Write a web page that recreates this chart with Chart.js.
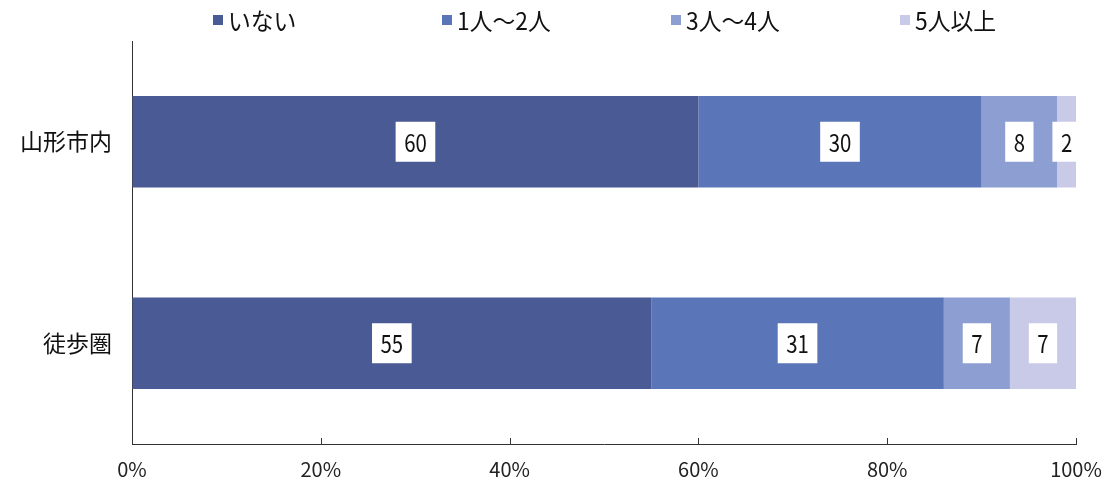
<!DOCTYPE html>
<html lang="ja">
<head>
<meta charset="utf-8">
<script src="https://cdn.jsdelivr.net/npm/chart.js@4.4.1/dist/chart.umd.min.js"></script>
<style>
  body { margin: 0; background: #fff; }
  #wrap { width: 1106px; height: 493px; }
</style>
</head>
<body>
<div id="wrap"><canvas id="grafica"></canvas></div>
<script>
// Datos: porcentaje por zona
const categorias = ['山形市内', '徒歩圏'];
const series = ['いない', '1人～2人', '3人～4人', '5人以上'];
const ninguno = [60, 55];
const de1a2 = [30, 31];
const de3a4 = [8, 7];
const cincoMas = [2, 7];
const ticksX = [0, 20, 40, 60, 80, 100];

const colores = ['#4a5a94', '#5a76b8', '#8c9ed2', '#c9c9e8'];
const fuente = '"Noto Sans CJK JP", "Noto Sans", sans-serif';

// Leyenda arriba, casillas de ancho fijo
const leyenda = {
    id: 'leyenda',
    afterDraw(chart) {
        const ctx = chart.ctx;
        ctx.save();
        ctx.font = '24px ' + fuente;
        ctx.textBaseline = 'middle';
        const y = 20, inicio = 213, paso = 229;
        chart.data.datasets.forEach((ds, i) => {
            const x0 = inicio + i * paso;
            ctx.fillStyle = ds.backgroundColor;
            ctx.fillRect(x0, y - 5, 10, 10);
            ctx.fillStyle = '#111';
            // texto algo angosto
            ctx.save();
            ctx.translate(x0 + 15, y + 1);
            ctx.scale(0.95, 1);
            ctx.fillText(ds.label, 0, 0);
            ctx.restore();
        });
        ctx.restore();
    }
};

// Etiquetas con fondo blanco en el centro de cada tramo
const etiquetas = {
    id: 'etiquetas',
    afterDatasetsDraw(chart) {
        const ctx = chart.ctx;
        ctx.save();
        ctx.font = '24px ' + fuente;
        ctx.textAlign = 'center';
        ctx.textBaseline = 'middle';
        const k = 0.85;
        chart.data.datasets.forEach((ds, i) => {
            chart.getDatasetMeta(i).data.forEach((bar, j) => {
                const p = bar.getProps(['x', 'y', 'base'], true);
                const cx = (p.x + p.base) / 2;
                const txt = String(ds.data[j]);
                const w = ctx.measureText(txt).width * k + 17;
                const h = 40;
                ctx.fillStyle = '#fff';
                ctx.fillRect(cx - w / 2, p.y - h / 2, w, h);
                ctx.fillStyle = '#111';
                ctx.save();
                ctx.translate(cx, p.y + 1);
                ctx.scale(k, 1);
                ctx.fillText(txt, 0, 0);
                ctx.restore();
            });
        });
        ctx.restore();
    }
};

// Marcas cortas hacia adentro sobre el eje inferior
const marcas = {
    id: 'marcas',
    afterDraw(chart) {
        const s = chart.scales.x;
        const ctx = chart.ctx;
        ctx.save();
        ctx.strokeStyle = '#333';
        ctx.lineWidth = 1;
        s.ticks.forEach(t => {
            const px = Math.round(s.getPixelForValue(t.value)) + 0.5;
            ctx.beginPath();
            ctx.moveTo(px, s.top);
            ctx.lineTo(px, s.top - 6);
            ctx.stroke();
        });
        ctx.restore();
    }
};

const valores = [ninguno, de1a2, de3a4, cincoMas];

new Chart(document.getElementById('grafica'), {
    type: 'bar',
    data: {
        labels: categorias,
        datasets: series.map((nombre, i) => ({
            label: nombre,
            data: valores[i],
            backgroundColor: colores[i],
            borderWidth: 0,
            barPercentage: 0.91,
            categoryPercentage: 0.5
        }))
    },
    options: {
        indexAxis: 'y',
        responsive: true,
        maintainAspectRatio: false,
        animation: false,
        layout: { padding: { top: 41, left: 0, right: 30, bottom: 12 } },
        plugins: {
            legend: { display: false },
            tooltip: { enabled: false }
        },
        scales: {
            x: {
                stacked: true,
                min: 0,
                max: 100,
                afterBuildTicks: s => { s.ticks = ticksX.map(v => ({ value: v })); },
                // espacio bajo el eje con marcas invisibles
                grid: { drawOnChartArea: false, drawTicks: true, tickLength: 13, tickColor: 'rgba(0,0,0,0)' },
                border: { display: true, color: '#333', width: 1, dash: [4, 2] },
                ticks: {
                    padding: 0,
                    color: '#222',
                    font: { size: 20, family: fuente },
                    callback: v => v + '%'
                }
            },
            y: {
                stacked: true,
                grid: { drawOnChartArea: false, drawTicks: false },
                border: { display: true, color: '#333', width: 1, dash: [4, 2] },
                ticks: {
                    padding: 20,
                    color: '#111',
                    font: { size: 23, family: fuente }
                }
            }
        }
    },
    plugins: [leyenda, etiquetas, marcas]
});
</script>
</body>
</html>
